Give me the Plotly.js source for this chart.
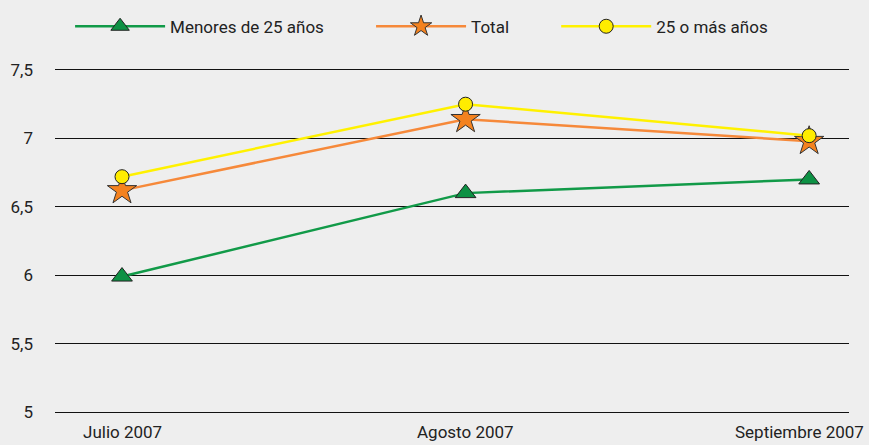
<!DOCTYPE html>
<html>
<head>
<meta charset="utf-8">
<script src="https://cdn.plot.ly/plotly-3.0.1.min.js"></script>
<style>
html,body{margin:0;padding:0;background:#eeeeee;}
#chart{width:869px;height:445px;}
</style>
</head>
<body>
<div id="chart"></div>
<script>
const categories = ["Julio 2007", "Agosto 2007", "Septiembre 2007"];
const menores = [5.99, 6.60, 6.70];
const total = [6.62, 7.14, 6.98];
const mayores = [6.72, 7.25, 7.02];
const seriesNames = ["Menores de 25 años", "Total", "25 o más años"];
const yTickVals = [5, 5.5, 6, 6.5, 7, 7.5];
const yTickText = ["5", "5,5", "6", "6,5", "7", "7,5"];

const FONT = 'Roboto, "Liberation Sans", sans-serif';
const FSIZE = 17;
const PAD = "\u00a0".repeat(10);
const xIdx = categories.map((c, i) => i);

const traces = [
  {
    x: xIdx, y: menores, name: seriesNames[0] + PAD, mode: "lines+markers",
    line: {color: "#119a48", width: 2.5},
    marker: {symbol: "triangle-up", size: 18, color: "#0d9144", line: {color: "#222", width: 1}}
  },
  {
    x: xIdx, y: total, name: seriesNames[1] + PAD, mode: "lines+markers",
    line: {color: "#f6893a", width: 2.5},
    marker: {symbol: "star", size: 22, color: "#f4821f", line: {color: "#333", width: 1}}
  },
  {
    x: xIdx, y: mayores, name: seriesNames[2], mode: "lines+markers",
    line: {color: "#fff100", width: 2.5},
    marker: {symbol: "circle", size: 14, color: "#ffec00", line: {color: "#222", width: 1}}
  }
];

const lastIdx = categories.length - 1;
const xLabelAnnotations = categories.map((c, i) => ({
  x: i, xref: "x", y: 0, yref: "paper", yanchor: "top", xanchor: "center",
  xshift: i === lastIdx ? -10 : 0, yshift: -8,
  text: c, showarrow: false,
  font: {family: FONT, size: FSIZE, color: "#222"}
}));

const layout = {
  width: 869, height: 445,
  paper_bgcolor: "#eeeeee", plot_bgcolor: "#eeeeee",
  margin: {l: 55, r: 20, t: 70, b: 33, pad: 0},
  font: {family: FONT, size: FSIZE, color: "#222"},
  showlegend: true,
  legend: {
    orientation: "h", x: 0.019, xanchor: "left",
    y: 0.94, yref: "container", yanchor: "middle",
    font: {family: FONT, size: FSIZE, color: "#222"},
    itemwidth: 90, tracegroupgap: 0, bgcolor: "rgba(0,0,0,0)",
    traceorder: "normal"
  },
  annotations: xLabelAnnotations,
  xaxis: {
    type: "linear", range: [-0.195, 2.116],
    tickvals: xIdx, showticklabels: false,
    showgrid: false, zeroline: false,
    showline: true, mirror: true, linecolor: "#111", linewidth: 1,
    ticks: "", fixedrange: true
  },
  yaxis: {
    range: [5, 7.5], tickvals: yTickVals, ticktext: yTickText,
    showgrid: true, gridcolor: "#111", gridwidth: 1,
    zeroline: false, showline: false, ticks: "",
    tickfont: {family: FONT, size: FSIZE, color: "#222"},
    ticklabelstandoff: 21, fixedrange: true
  }
};

Plotly.newPlot("chart", traces, layout, {displayModeBar: false, staticPlot: true});
</script>
</body>
</html>
